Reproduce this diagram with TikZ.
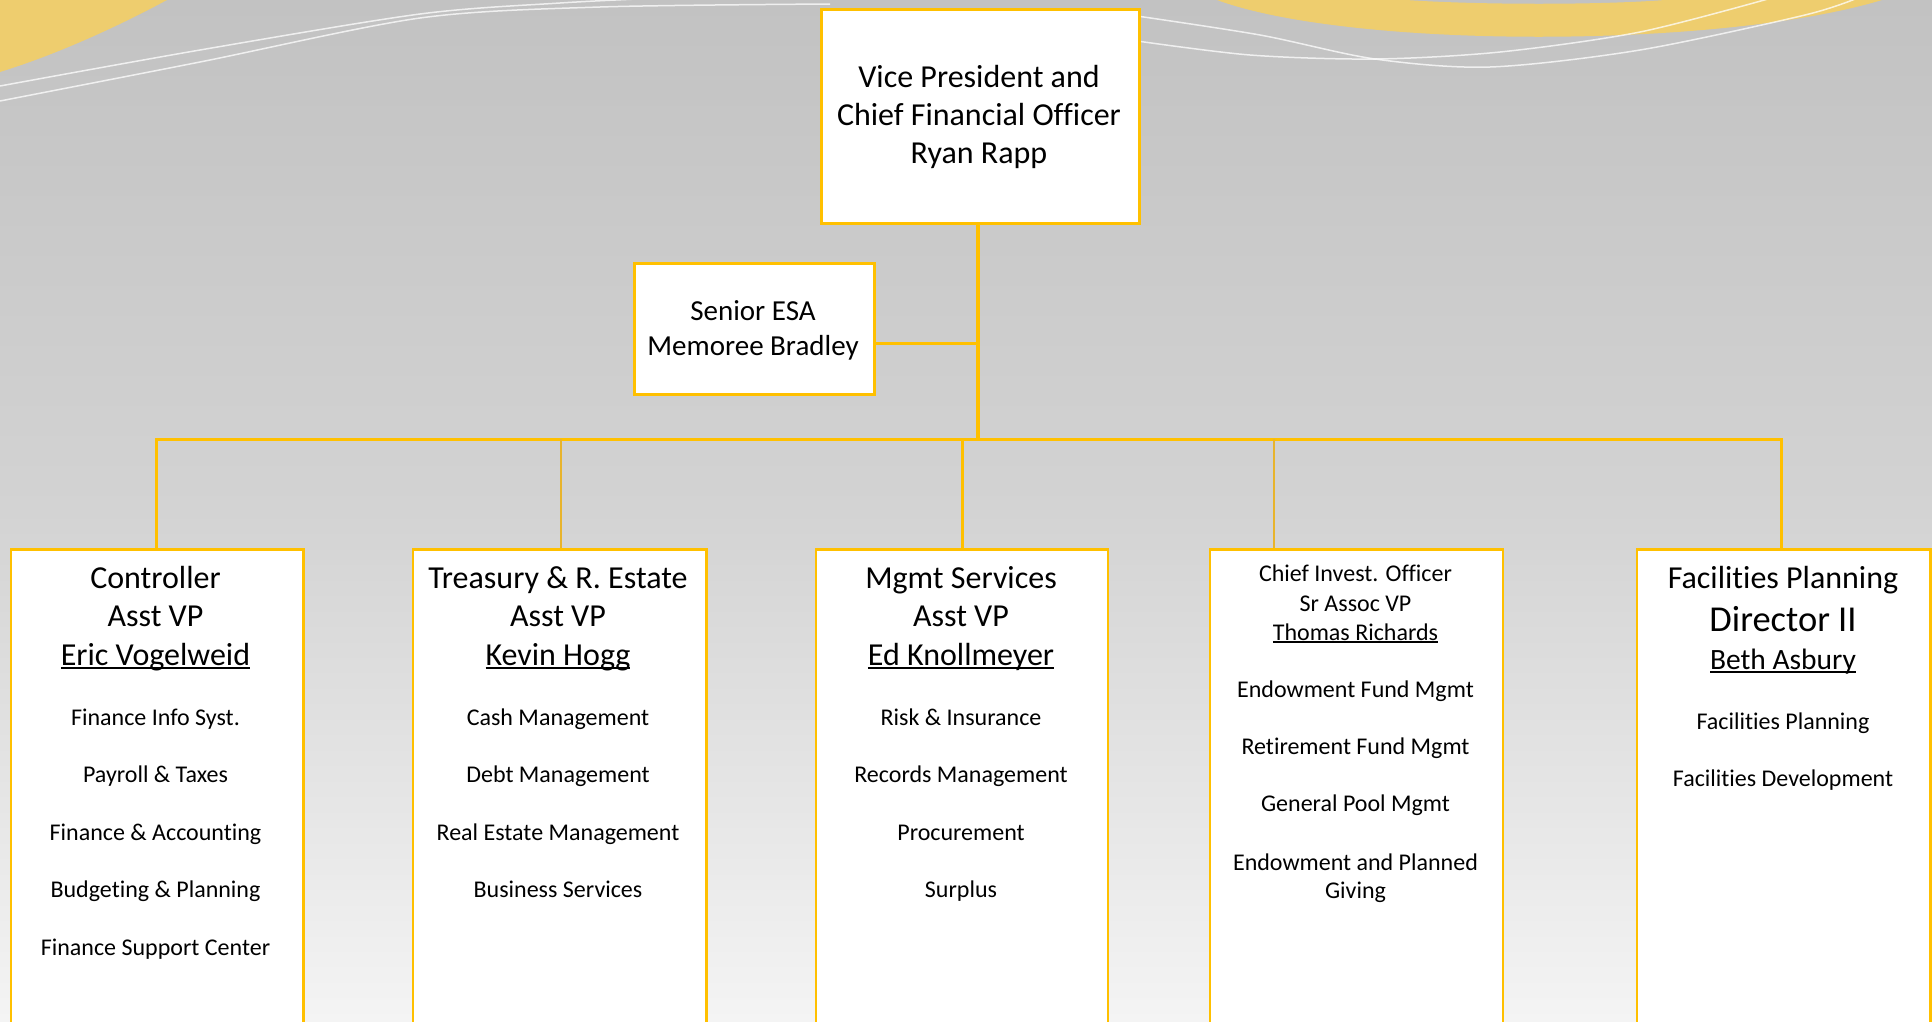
\documentclass[tikz,border=0pt]{standalone}
\usepackage{fontspec}
\setmainfont{Carlito}[Ligatures=NoCommon]
\definecolor{gold}{HTML}{FFC000}
\definecolor{mutedgold}{HTML}{E8B42C}
\definecolor{sand}{HTML}{EECD6E}
\definecolor{bgtop}{HTML}{C2C2C2}
\definecolor{bgmid}{HTML}{D3D3D3}
\definecolor{bgbot}{HTML}{F4F4F4}
\newcommand\myul[1]{\setbox0\hbox{#1}\rlap{\rule[-0.12em]{\wd0}{0.065em}}\box0}
\newcommand\fs[1]{\fontsize{#1}{#1}\selectfont}
\tikzset{
  topbox/.style={draw=gold, line width=3pt, fill=white, inner sep=0pt},
  subbox/.style={draw=gold, line width=2.7pt, fill=white, inner sep=0pt, anchor=north west, minimum height=520pt},
  txt/.style={anchor=base, inner sep=0pt, text=black},
  conn/.style={draw=gold, line width=3pt},
  mainconn/.style={draw=gold, line width=4pt},
  thinconn/.style={draw=mutedgold, line width=2pt},
  wcurve/.style={draw=white, draw opacity=0.75, line width=1.5pt},
}
\begin{document}
\begin{tikzpicture}[x=1pt,y=-1pt]
\useasboundingbox (0,0) rectangle (1932,1021);
\clip (0,0) rectangle (1932,1021);
\shade[top color=bgtop, bottom color=bgbot, middle color=bgmid] (0,0) rectangle (1932,1021);
% decorations
\fill[sand] (0,0) -- (167,0) .. controls (115,28) and (55,55) .. (0,72) -- cycle;
\fill[sand] (1217,0) .. controls (1350,49) and (1720,49) .. (1882,0) -- (1665,0) .. controls (1600,5) and (1480,5) .. (1406,0) -- cycle;
\draw[wcurve] plot[smooth] coordinates {(0,86) (200,50) (420,14) (560,3) (660,-2)};
\draw[wcurve] plot[smooth] coordinates {(0,101) (200,62) (420,18) (600,7) (830,4)};
\draw[wcurve] plot[smooth] coordinates {(1130,15) (1260,35) (1375,59) (1490,67) (1640,50) (1805,15) (1860,-3)};
\draw[wcurve] plot[smooth] coordinates {(1130,40) (1250,55) (1375,59) (1500,52) (1640,32) (1775,-3)};
% boxes
\node[topbox, anchor=north west, minimum width=318.5pt, minimum height=214pt] (vp) at (819.5,8.3) {};
\node[topbox, anchor=north west, minimum width=240pt, minimum height=130.4pt] (esa) at (633,262.3) {};
\node[subbox, minimum width=292.5pt] (ctl) at (9.5,548) {};
\node[subbox, minimum width=293.5pt] (trs) at (411.5,548) {};
\node[subbox, minimum width=292pt] (mgs) at (814.7,548) {};
\node[subbox, minimum width=292.9pt] (cio) at (1208.6,548) {};
\node[subbox, minimum width=293.3pt] (fac) at (1635.7,548) {};
% connectors
\coordinate (bus) at (977.7,439.2);
\coordinate (esaj) at (977.7,343);
\coordinate (d1) at (156.5,439.2);
\coordinate (d2) at (561,439.2);
\coordinate (d3) at (962,439.2);
\coordinate (d4) at (1274,439.2);
\coordinate (d5) at (1781.7,439.2);
\draw[conn] (esa.east |- esaj) -- (esaj);
\draw[conn] ([xshift=-1.5pt]d1) -- ([xshift=1.5pt]d5);
\draw[mainconn] (vp.south -| bus) -- ([yshift=-1.5pt]bus);
\draw[conn] (d1) -- (d1 |- ctl.north);
\draw[thinconn] (d2) -- (d2 |- trs.north);
\draw[conn] (d3) -- (d3 |- mgs.north);
\draw[thinconn] (d4) -- (d4 |- cio.north);
\draw[conn] (d5) -- (d5 |- fac.north);
% VP text
\node[txt, font=\fs{32}] (vp1) at (979,87.3) {Vice President and};
\node[txt, font=\fs{32}] (vp2) at (979,125) {Chief Financial Officer};
\node[txt, font=\fs{32}] (vp3) at (979,163.3) {Ryan Rapp};
% ESA text
\node[txt, font=\fs{29}] (esa1) at (753,320) {Senior ESA};
\node[txt, font=\fs{29}] (esa2) at (753,355) {Memoree Bradley};
% Controller
\node[txt, font=\fs{32}] (c1) at (155.5,588.3) {Controller};
\node[txt, font=\fs{32}] (c2) at (155.5,626.7) {Asst VP};
\node[txt, font=\fs{32}] (c3) at (155.5,665) {\myul{Eric Vogelweid}};
\node[txt, font=\fs{24}] (c4) at (155.5,725) {Finance Info Syst.};
\node[txt, font=\fs{24}] (c5) at (155.5,782.7) {Payroll \& Taxes};
\node[txt, font=\fs{24}] (c6) at (155.5,840.7) {Finance \& Accounting};
\node[txt, font=\fs{24}] (c7) at (155.5,897.7) {Budgeting \& Planning};
\node[txt, font=\fs{24}] (c8) at (155.5,955.7) {Finance Support Center};
% Treasury
\node[txt, font=\fs{32}] (t1) at (558,588.3) {Treasury \& R. Estate};
\node[txt, font=\fs{32}] (t2) at (558,626.7) {Asst VP};
\node[txt, font=\fs{32}] (t3) at (558,665) {\myul{Kevin Hogg}};
\node[txt, font=\fs{24}] (t4) at (558,725) {Cash Management};
\node[txt, font=\fs{24}] (t5) at (558,782.7) {Debt Management};
\node[txt, font=\fs{24}] (t6) at (558,840.7) {Real Estate Management};
\node[txt, font=\fs{24}] (t7) at (558,897.7) {Business Services};
% Mgmt Services
\node[txt, font=\fs{32}] (m1) at (961,588.3) {Mgmt Services};
\node[txt, font=\fs{32}] (m2) at (961,626.7) {Asst VP};
\node[txt, font=\fs{32}] (m3) at (961,665) {\myul{Ed Knollmeyer}};
\node[txt, font=\fs{24}] (m4) at (961,725) {Risk \& Insurance};
\node[txt, font=\fs{24}] (m5) at (961,782.7) {Records Management};
\node[txt, font=\fs{24}] (m6) at (961,840.7) {Procurement};
\node[txt, font=\fs{24}] (m7) at (961,897.7) {Surplus};
% CIO
\node[txt, font=\fs{24}] (i1) at (1355.5,581.7) {Chief Invest. Officer};
\node[txt, font=\fs{24}] (i2) at (1355.5,611) {Sr Assoc VP};
\node[txt, font=\fs{24}] (i3) at (1355.5,640) {\myul{Thomas Richards}};
\node[txt, font=\fs{24}] (i4) at (1355.5,697.3) {Endowment Fund Mgmt};
\node[txt, font=\fs{24}] (i5) at (1355.5,754) {Retirement Fund Mgmt};
\node[txt, font=\fs{24}] (i6) at (1355.5,811.7) {General Pool Mgmt};
\node[txt, font=\fs{24}] (i7) at (1355.5,870) {Endowment and Planned};
\node[txt, font=\fs{24}] (i8) at (1355.5,898.3) {Giving};
% Facilities
\node[txt, font=\fs{32}] (f1) at (1783,588.3) {Facilities Planning};
\node[txt, font=\fs{36.5}] (f2) at (1783,631.7) {Director II};
\node[txt, font=\fs{29.5}] (f3) at (1783,669.3) {\myul{Beth Asbury}};
\node[txt, font=\fs{24}] (f4) at (1783,729.3) {Facilities Planning};
\node[txt, font=\fs{24}] (f5) at (1783,786.7) {Facilities Development};
\end{tikzpicture}
\end{document}
